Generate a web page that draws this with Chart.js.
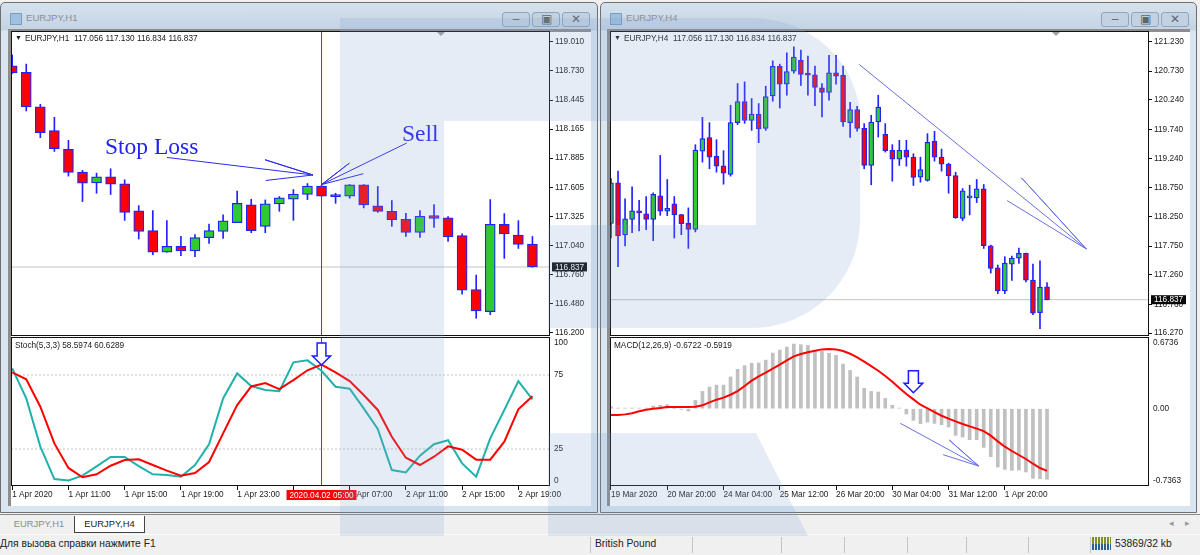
<!DOCTYPE html>
<html>
<head>
<meta charset="utf-8">
<title>EURJPY</title>
<script src="https://cdn.jsdelivr.net/npm/chart.js@4"></script>
<style>
  html, body { margin: 0; padding: 0; width: 1200px; height: 555px; overflow: hidden; background: #f0f0f0; }
  body { position: relative; font-family: "Liberation Sans", sans-serif; }
  .abs { position: absolute; }
  .win { position: absolute; top: 2px; height: 511px; box-sizing: border-box; border: 1px solid #6f6f6f; border-radius: 5px 5px 0 0;
         background: linear-gradient(#d6e2ed 0, #c3d3e4 27px, #d9e6f2 28px, #d9e6f2 100%); }
  .client { position: absolute; background: #fff; border-top: 3px solid #8d8d8d; border-left: 3px solid #8d8d8d; box-sizing: border-box; }
  .wtitle { position: absolute; top: 9px; font-size: 9.6px; line-height: 12px; color: #8b9096; }
  .wicon { position: absolute; top: 10px; width: 12px; height: 12px; background: #9fc0e0; border: 1px solid #7c9cc0; box-sizing: border-box; }
  .btn { position: absolute; top: 9px; width: 28px; height: 15px; box-sizing: border-box; border: 1px solid #8fa5bc; border-radius: 3px; background: #c2d2e3; color: #5e666e; text-align: center; font-size: 12px; line-height: 13px; }
  canvas { position: absolute; z-index: 2; }
  .txt { position: absolute; z-index: 3; font-size: 8.25px; color: #1a1a1a; white-space: pre; }
  .note { position: absolute; z-index: 3; font-family: "Liberation Serif", serif; font-size: 23.5px; color: #2222ee; white-space: pre; }
  .tri { position: absolute; z-index: 3; width: 0; height: 0; border-left: 4px solid transparent; border-right: 4px solid transparent; border-top: 4px solid #a0a0a0; }
  .sep { position: absolute; top: 537px; width: 1px; height: 16px; background: #c4c4c4; }
  .sbar { position: absolute; font-size: 10.3px; color: #222; top: 538px; white-space: pre; }
  .tab { position: absolute; top: 516px; height: 17px; box-sizing: border-box; font-size: 9.4px; line-height: 16px; text-align: center; }
  #mark { position: absolute; left: 0; top: 0; z-index: 5; pointer-events: none; }
</style>
</head>
<body>

<div class="win" style="left:0;width:598px">
  <div class="wicon" style="left:9px"></div>
  <div class="wtitle" style="left:25px">EURJPY,H1</div>
  <div class="btn" style="left:501px">&#8211;</div>
  <div class="btn" style="left:531px">&#9635;</div>
  <div class="btn" style="left:561px">&#10005;</div>
  <div class="client" style="left:7px;top:26px;width:583px;height:477px"></div>
</div>
<div class="win" style="left:600px;width:597px">
  <div class="wicon" style="left:9px"></div>
  <div class="wtitle" style="left:25px">EURJPY,H4</div>
  <div class="btn" style="left:500px">&#8211;</div>
  <div class="btn" style="left:530px">&#9635;</div>
  <div class="btn" style="left:560px">&#10005;</div>
  <div class="client" style="left:6px;top:26px;width:583px;height:477px"></div>
</div>

<canvas id="h1Chart" width="579" height="305" style="left:11px;top:31px"></canvas>
<canvas id="stochChart" width="579" height="170" style="left:11px;top:337px"></canvas>
<canvas id="h4Chart" width="579" height="305" style="left:610px;top:31px"></canvas>
<canvas id="macdChart" width="579" height="170" style="left:610px;top:337px"></canvas>

<div class="txt" style="left:15px;top:34px;font-size:7px">&#9660;</div>
<div class="txt" style="left:25px;top:33.5px">EURJPY,H1  117.056 117.130 116.834 116.837</div>
<div class="txt" style="left:15px;top:340.5px">Stoch(5,3,3) 58.5974 60.6289</div>
<div class="tri" style="left:437px;top:32px"></div>
<div class="note" style="left:105px;top:133px">Stop Loss</div>
<div class="note" style="left:402px;top:120px">Sell</div>

<div class="txt" style="left:614px;top:34px;font-size:7px">&#9660;</div>
<div class="txt" style="left:624px;top:33.5px">EURJPY,H4  117.056 117.130 116.834 116.837</div>
<div class="txt" style="left:614px;top:340.5px">MACD(12,26,9) -0.6722 -0.5919</div>
<div class="tri" style="left:1052px;top:32px"></div>

<div class="abs" style="left:0;top:514px;width:1200px;height:1px;background:#8a8a8a"></div>
<div class="tab" style="left:4px;width:70px;color:#8b8b8b">EURJPY,H1</div>
<div class="tab" style="left:74px;width:71px;background:#fff;border:1px solid #444;border-top:none;color:#222">EURJPY,H4</div>
<div class="abs" style="left:1169px;top:518px;font-size:9px;color:#999">&#9666;</div>
<div class="abs" style="left:1185px;top:518px;font-size:9px;color:#999">&#9656;</div>

<div class="abs" style="left:0;top:534px;width:1200px;height:1px;background:#fafafa"></div>
<div class="sbar" style="left:0">Для вызова справки нажмите F1</div>
<div class="sbar" style="left:595px">British Pound</div>
<div class="sep" style="left:590px"></div>
<div class="sep" style="left:692px"></div>
<div class="sep" style="left:781px"></div>
<div class="sep" style="left:844px"></div>
<div class="sep" style="left:907px"></div>
<div class="sep" style="left:966px"></div>
<div class="sep" style="left:1028px"></div>
<div class="sep" style="left:1090px"></div>
<div class="abs" style="left:1092px;top:537px;width:19px;height:13px;background:repeating-linear-gradient(90deg,#7f8f2a 0,#7f8f2a 2px,#f0f0f0 2px,#f0f0f0 3px)"></div>
<div class="abs" style="left:1092px;top:544px;width:19px;height:6px;background:repeating-linear-gradient(90deg,#2a5f8f 0,#2a5f8f 2px,#f0f0f0 2px,#f0f0f0 3px)"></div>
<div class="sbar" style="left:1115px">53869/32 kb</div>

<svg id="mark" width="1200" height="555">
  <path d="M340 18 H752 A108 102 0 0 1 860 120 V220 A108 108 0 0 1 752 328 H548 V225 H756 V121 H444 V536 H340 Z" fill="rgba(130,160,205,0.2)"/>
  <path d="M548 433 H756 L808 536 H548 Z" fill="rgba(130,160,205,0.2)"/>
</svg>

<script>
// ========================== DATA =============================

// EURJPY H1 candles
const h1Open = [118.775,118.712,118.379,118.151,117.970,117.750,117.646,117.706,117.638,117.377,117.186,116.980,117.035,116.990,117.119,117.180,117.264,117.435,117.228,117.445,117.489,117.535,117.615,117.522,117.518,117.628,117.425,117.373,117.296,117.170,117.331,117.309,117.138,116.619,116.406,117.247,117.145,117.056];
const h1High = [118.880,118.792,118.405,118.279,118.057,117.767,117.741,117.783,117.677,117.428,117.380,117.283,117.131,117.148,117.251,117.338,117.567,117.489,117.483,117.515,117.583,117.641,117.622,117.547,117.631,117.631,117.612,117.477,117.354,117.380,117.438,117.322,117.155,116.758,117.486,117.351,117.283,117.130];
const h1Low = [118.702,118.340,118.083,117.950,117.712,117.467,117.547,117.535,117.286,117.106,116.954,116.980,116.945,116.935,117.064,117.112,117.264,117.167,117.167,117.373,117.286,117.486,117.518,117.450,117.499,117.406,117.363,117.228,117.131,117.122,117.218,117.083,116.574,116.342,116.377,116.919,117.015,116.834];
const h1Close = [118.708,118.379,118.131,117.977,117.747,117.644,117.706,117.634,117.363,117.180,116.980,117.035,116.990,117.119,117.186,117.280,117.450,117.186,117.445,117.503,117.538,117.615,117.518,117.515,117.628,117.435,117.373,117.290,117.170,117.325,117.305,117.128,116.613,116.413,117.247,117.155,117.054,116.837];

// Stochastic under the H1 chart
const stochMain = [79.5,59.2,26.6,4.7,3.8,7.0,13.3,19.6,19.6,13.5,7.9,7.4,6.3,14.2,28.2,59.2,76.1,67.6,64.9,64.0,83.6,84.9,77.9,67.1,65.8,52.5,38.5,10.8,9.2,20.5,28.2,30.9,15.3,6.3,32.2,51.4,70.9,58.6];
const stochSignal = [76.8,72.1,53.6,28.8,12.2,5.9,7.9,13.7,17.6,18.0,14.2,10.4,7.0,8.8,16.2,35.6,54.7,67.3,69.6,65.5,71.6,78.2,82.0,76.8,70.9,61.5,51.4,33.3,19.1,14.2,19.8,26.8,24.5,17.8,17.8,30.0,51.8,60.6];

// EURJPY H4 candles
const h4Open = [118.138,118.828,117.939,118.206,118.349,118.298,118.206,118.606,118.343,118.469,118.286,118.138,118.035,119.368,119.597,119.277,119.118,118.970,119.853,120.212,119.892,120.000,119.756,120.307,120.810,120.507,120.729,120.912,120.673,120.666,120.444,120.365,120.700,120.656,119.853,120.075,119.756,119.123,119.863,119.653,119.380,119.231,119.385,119.265,118.923,118.867,119.533,119.265,119.146,118.953,118.223,118.571,118.571,118.725,117.756,117.381,116.988,117.444,117.546,117.625,117.170,116.617,117.056];
const h4High = [118.901,119.026,118.554,118.759,118.530,118.594,118.657,119.294,118.884,118.594,118.291,118.401,119.477,119.943,119.853,119.562,119.375,120.149,120.519,120.547,120.263,120.178,120.473,120.905,120.849,121.042,121.145,121.088,120.986,120.815,120.519,120.998,120.998,120.815,120.200,120.131,119.836,119.978,120.319,119.836,119.477,119.551,119.551,119.323,119.265,119.665,119.704,119.402,119.163,119.009,118.730,118.787,118.884,118.799,117.768,117.427,117.569,117.581,117.717,117.632,117.444,117.500,117.130];
const h4Low = [117.888,117.398,117.751,117.979,118.008,118.030,117.842,118.274,118.269,117.888,117.944,117.710,117.991,119.180,119.067,119.009,118.804,118.941,119.819,119.841,119.721,119.511,119.721,120.217,120.102,120.319,120.695,120.485,120.319,120.143,119.949,120.234,120.507,119.790,119.602,119.709,119.067,118.794,119.607,119.351,118.855,119.123,119.111,118.782,118.838,118.855,119.197,119.026,118.650,118.223,118.184,118.281,118.491,117.710,117.290,116.941,116.941,117.164,117.454,117.141,116.583,116.343,116.834];
const h4Close = [118.828,117.922,118.213,118.349,118.315,118.206,118.633,118.343,118.394,118.281,118.132,118.035,119.385,119.580,119.265,119.111,118.992,119.853,120.212,119.892,120.000,119.744,120.297,120.810,120.507,120.724,120.969,120.673,120.661,120.451,120.365,120.700,120.644,119.863,120.075,119.756,119.123,119.863,120.119,119.375,119.231,119.380,119.265,118.918,119.055,119.516,119.265,119.146,118.947,118.235,118.691,118.589,118.725,117.756,117.369,116.988,117.461,117.546,117.625,117.170,116.607,117.051,116.837];

// MACD under the H4 chart
const macdHist = [0.019,0.006,0.006,0.006,0.006,0.006,0.025,0.032,0.038,0.003,-0.006,-0.022,0.079,0.165,0.206,0.225,0.225,0.302,0.375,0.410,0.432,0.435,0.463,0.530,0.559,0.587,0.616,0.610,0.603,0.552,0.546,0.527,0.508,0.425,0.365,0.302,0.194,0.165,0.159,0.098,0.032,0.006,-0.051,-0.111,-0.143,-0.127,-0.140,-0.152,-0.175,-0.254,-0.270,-0.295,-0.295,-0.368,-0.457,-0.556,-0.578,-0.587,-0.584,-0.603,-0.663,-0.667,-0.672];
const macdSignal = [-0.060,-0.060,-0.054,-0.044,-0.025,-0.010,0,0.006,0.016,0.016,0.016,0.016,0.019,0.032,0.060,0.086,0.105,0.133,0.168,0.216,0.267,0.308,0.343,0.381,0.419,0.460,0.498,0.521,0.537,0.552,0.565,0.568,0.565,0.549,0.524,0.489,0.448,0.406,0.362,0.311,0.257,0.197,0.140,0.089,0.038,0.003,-0.032,-0.067,-0.095,-0.121,-0.146,-0.168,-0.190,-0.213,-0.257,-0.311,-0.362,-0.403,-0.441,-0.479,-0.524,-0.565,-0.592];

// Axis ticks
const h1PriceTicks = [119.010,118.730,118.445,118.165,117.885,117.605,117.325,117.040,116.760,116.480,116.200];
const h4PriceTicks = [121.230,120.730,120.240,119.740,119.240,118.750,118.250,117.750,117.260,116.760,116.270];
const stochLevels = [100,75,25,0];
const stochDashed = [75,25];
const macdLevels = [0.6736,0,-0.7363];
const h1TimeIndex = [0,4,8,12,16,20,24,28,32,36];
const h1TimeLabels = ["1 Apr 2020","1 Apr 11:00","1 Apr 15:00","1 Apr 19:00","1 Apr 23:00","2 Apr 03:00","2 Apr 07:00","2 Apr 11:00","2 Apr 15:00","2 Apr 19:00"];
const h4TimeIndex = [0,8,16,24,32,40,48,56];
const h4TimeLabels = ["19 Mar 2020","20 Mar 20:00","24 Mar 04:00","25 Mar 12:00","26 Mar 20:00","30 Mar 04:00","31 Mar 12:00","1 Apr 20:00"];

// Hand drawn lines, as [candle index, price]
const stopLossArrow = [[11.01,117.892],[21.39,117.723],[17.98,117.870],[21.39,117.723],[18.03,117.670]];
const sellArrow = [[28.06,118.031],[22.01,117.631],[23.98,117.837],[22.01,117.631],[24.97,117.735]];
const h4TrendArrow = [[35.28,120.844],[67.60,117.700],[58.36,118.913],[67.60,117.700],[56.32,118.525]];
const macdTrendArrow = [[41.13,-0.139],[52.28,-0.546],[48.09,-0.298],[52.28,-0.546],[47.22,-0.438]];
const h1CursorIndex = 22;
const h1CursorTime = "2020.04.02 05:00";
const stochArrowTip = [22, 81.8];
const macdArrowTip = [43, 0.152];

// ========================== HELPERS =============================

Chart.defaults.font.family = '"Liberation Sans", sans-serif';
Chart.defaults.font.size = 8.25;
Chart.defaults.color = "#1a1a1a";
Chart.defaults.animation = false;

const BLUE = "#2222ff";
const UP = "#2ecb30";
const DOWN = "#ff0000";

function candleSets(open, high, low, close, bodyWidth) {
  const wick = high.map((h, i) => ({ x: i, y: [low[i], h] }));
  const body = open.map((o, i) => ({ x: i, y: [o, close[i]] }));
  return [
    { type: "bar", data: wick, backgroundColor: BLUE, barThickness: 1, grouped: false, order: 6 },
    { type: "bar", data: body, backgroundColor: open.map((o, i) => (close[i] >= o ? UP : DOWN)),
      borderColor: BLUE, borderWidth: 1.25, borderSkipped: false, barThickness: bodyWidth, minBarLength: 2, grouped: false, order: 5 },
  ];
}

function lineSet(points, color, width, order, dash) {
  return { type: "line", data: points.map((p) => ({ x: p[0], y: p[1] })), borderColor: color, borderWidth: width,
    borderDash: dash || [], pointRadius: 0, tension: 0, order: order };
}

function seriesSet(values, color, order) {
  return lineSet(values.map((v, i) => [i, v]), color, 2, order);
}

// black frame around each pane
const paneFrame = {
  id: "paneFrame",
  afterDraw(chart) {
    const a = chart.chartArea, ctx = chart.ctx;
    ctx.save();
    ctx.strokeStyle = "#111";
    ctx.lineWidth = 1;
    ctx.strokeRect(a.left + 0.5, a.top + 0.5, a.width - 1, a.height - 1);
    ctx.restore();
  },
};

// black tag with the last price
function priceTag(price) {
  return {
    id: "priceTag",
    afterDraw(chart) {
      const y = chart.scales.y.getPixelForValue(price), ctx = chart.ctx, left = chart.chartArea.right + 2;
      ctx.save();
      ctx.fillStyle = "#0a0a0a";
      ctx.fillRect(left, y - 4.5, 35, 9);
      ctx.fillStyle = "#fff";
      ctx.font = '8.25px "Liberation Sans"';
      ctx.textBaseline = "middle";
      ctx.fillText(price.toFixed(3), left + 3, y + 0.5);
      ctx.restore();
    },
  };
}

// indicator scale labels stay inside the pane at top and bottom
function levelLabels(levels, format) {
  return {
    id: "levelLabels",
    afterDraw(chart) {
      const a = chart.chartArea, ctx = chart.ctx, yScale = chart.scales.y;
      ctx.save();
      ctx.fillStyle = "#1a1a1a";
      ctx.font = '8.25px "Liberation Sans"';
      ctx.textBaseline = "middle";
      levels.forEach((v) => {
        const y = Math.min(Math.max(yScale.getPixelForValue(v), a.top + 6), a.bottom - 5);
        ctx.fillText(format(v), a.right + 4, y);
      });
      ctx.restore();
    },
  };
}

// red tag on the time axis at the crosshair
function timeTag(index, text) {
  return {
    id: "timeTag",
    afterDraw(chart) {
      const x = chart.scales.x.getPixelForValue(index), ctx = chart.ctx, y = chart.chartArea.bottom + 4;
      ctx.save();
      ctx.fillStyle = "#ff0000";
      ctx.fillRect(x - 35, y, 70, 10);
      ctx.fillStyle = "#fff";
      ctx.font = '8.25px "Liberation Sans"';
      ctx.textAlign = "center";
      ctx.textBaseline = "middle";
      ctx.fillText(text, x, y + 5.5);
      ctx.restore();
    },
  };
}

// hollow down arrow, placed by its tip
function downArrow(tip, halfHead, halfShaft, headH, totalH) {
  return {
    id: "downArrow",
    afterDatasetsDraw(chart) {
      const x = chart.scales.x.getPixelForValue(tip[0]), y = chart.scales.y.getPixelForValue(tip[1]), ctx = chart.ctx;
      ctx.save();
      ctx.beginPath();
      ctx.moveTo(x - halfShaft, y - totalH);
      ctx.lineTo(x + halfShaft, y - totalH);
      ctx.lineTo(x + halfShaft, y - headH);
      ctx.lineTo(x + halfHead, y - headH);
      ctx.lineTo(x, y);
      ctx.lineTo(x - halfHead, y - headH);
      ctx.lineTo(x - halfShaft, y - headH);
      ctx.closePath();
      ctx.fillStyle = "#fff";
      ctx.fill();
      ctx.strokeStyle = "#1a1aff";
      ctx.lineWidth = 1.5;
      ctx.stroke();
      ctx.restore();
    },
  };
}

function paneOptions(cfg) {
  const x = {
    type: "linear", min: cfg.xMin, max: cfg.xMax, offset: false, display: !!cfg.timeIndex,
    grid: { offset: false, drawOnChartArea: false, drawTicks: true, tickLength: 4, color: "#111" },
    border: { display: false },
  };
  if (cfg.timeIndex) {
    x.afterFit = (s) => { s.height = 21; s.paddingLeft = 0; s.paddingRight = 0; };
    x.afterBuildTicks = (s) => { s.ticks = cfg.timeIndex.map((v) => ({ value: v })); };
    x.ticks = { autoSkip: false, maxRotation: 0, align: "start", padding: 0,
      callback: (v) => cfg.timeLabels[cfg.timeIndex.indexOf(v)] };
  }
  const y = {
    type: "linear", position: "right", min: cfg.yMin, max: cfg.yMax,
    grid: { drawOnChartArea: false, drawTicks: !!cfg.priceTicks, tickLength: 3, color: "#111" },
    border: { display: false },
    // fixed axis width, and no room kept for half a tick label above and below
    afterFit: (s) => { s.width = 40; s.paddingTop = 0; s.paddingBottom = 0; },
  };
  if (cfg.priceTicks) {
    y.afterBuildTicks = (s) => { s.ticks = cfg.priceTicks.map((v) => ({ value: v })); };
    y.ticks = { autoSkip: false, padding: 2, callback: (v) => v.toFixed(3) };
  } else {
    y.ticks = { display: false };
  }
  return {
    responsive: false,
    devicePixelRatio: 1,
    layout: { padding: 0 },
    plugins: { legend: { display: false }, tooltip: { enabled: false } },
    scales: { x, y },
  };
}

// ========================== H1 + STOCH =============================

const h1Range = { xMin: -0.085, xMax: 38.25 };

new Chart(document.getElementById("h1Chart"), {
  type: "bar",
  data: {
    datasets: [
      ...candleSets(h1Open, h1High, h1Low, h1Close, 10),
      lineSet([[h1Range.xMin, h1Close[37]], [h1Range.xMax, h1Close[37]]], "#d8d8d8", 1.5, 7),
      lineSet([[h1CursorIndex, 116.171], [h1CursorIndex, 119.111]], "#d81818", 1, 4),
      lineSet(stopLossArrow, "#2a2af0", 1, 2),
      lineSet(sellArrow, "#2a2af0", 1, 2),
    ],
  },
  options: paneOptions({ ...h1Range, yMin: 116.171, yMax: 119.111, priceTicks: h1PriceTicks }),
  plugins: [paneFrame, priceTag(h1Close[37])],
});

new Chart(document.getElementById("stochChart"), {
  type: "bar",
  data: {
    datasets: [
      ...stochDashed.map((v) => lineSet([[h1Range.xMin, v], [h1Range.xMax, v]], "#c4c4c4", 1, 7, [2, 2])),
      lineSet([[h1CursorIndex, 0], [h1CursorIndex, 100.7]], "#d81818", 1, 4),
      seriesSet(stochMain, "#20b2aa", 3),
      seriesSet(stochSignal, "#ff0000", 2),
    ],
  },
  options: paneOptions({ ...h1Range, yMin: 0, yMax: 100.7, timeIndex: h1TimeIndex, timeLabels: h1TimeLabels }),
  plugins: [paneFrame, levelLabels(stochLevels, (v) => String(v)), timeTag(h1CursorIndex, h1CursorTime),
    downArrow(stochArrowTip, 9, 4.4, 9, 22)],
});

// ========================== H4 + MACD =============================

const h4Range = { xMin: -0.142, xMax: 76.5 };

new Chart(document.getElementById("h4Chart"), {
  type: "bar",
  data: {
    datasets: [
      ...candleSets(h4Open, h4High, h4Low, h4Close, 5),
      lineSet([[h4Range.xMin, h4Close[62]], [h4Range.xMax, h4Close[62]]], "#c4c4c4", 1, 7),
      lineSet(h4TrendArrow, "#6a70dc", 1, 2),
    ],
  },
  options: paneOptions({ ...h4Range, yMin: 116.219, yMax: 121.413, priceTicks: h4PriceTicks }),
  plugins: [paneFrame, priceTag(h4Close[62])],
});

new Chart(document.getElementById("macdChart"), {
  type: "bar",
  data: {
    datasets: [
      { type: "bar", data: macdHist.map((v, i) => ({ x: i, y: v })), backgroundColor: "#c0c0c0", barThickness: 3, grouped: false, order: 6 },
      seriesSet(macdSignal, "#ff0000", 3),
      lineSet(macdTrendArrow, "#6a70dc", 1, 2),
    ],
  },
  options: paneOptions({ ...h4Range, yMin: -0.7363, yMax: 0.683, timeIndex: h4TimeIndex, timeLabels: h4TimeLabels }),
  plugins: [paneFrame, levelLabels(macdLevels, (v) => (v === 0 ? "0.00" : v.toFixed(4))),
    downArrow(macdArrowTip, 9.3, 5, 9.4, 22)],
});
</script>
</body>
</html>
